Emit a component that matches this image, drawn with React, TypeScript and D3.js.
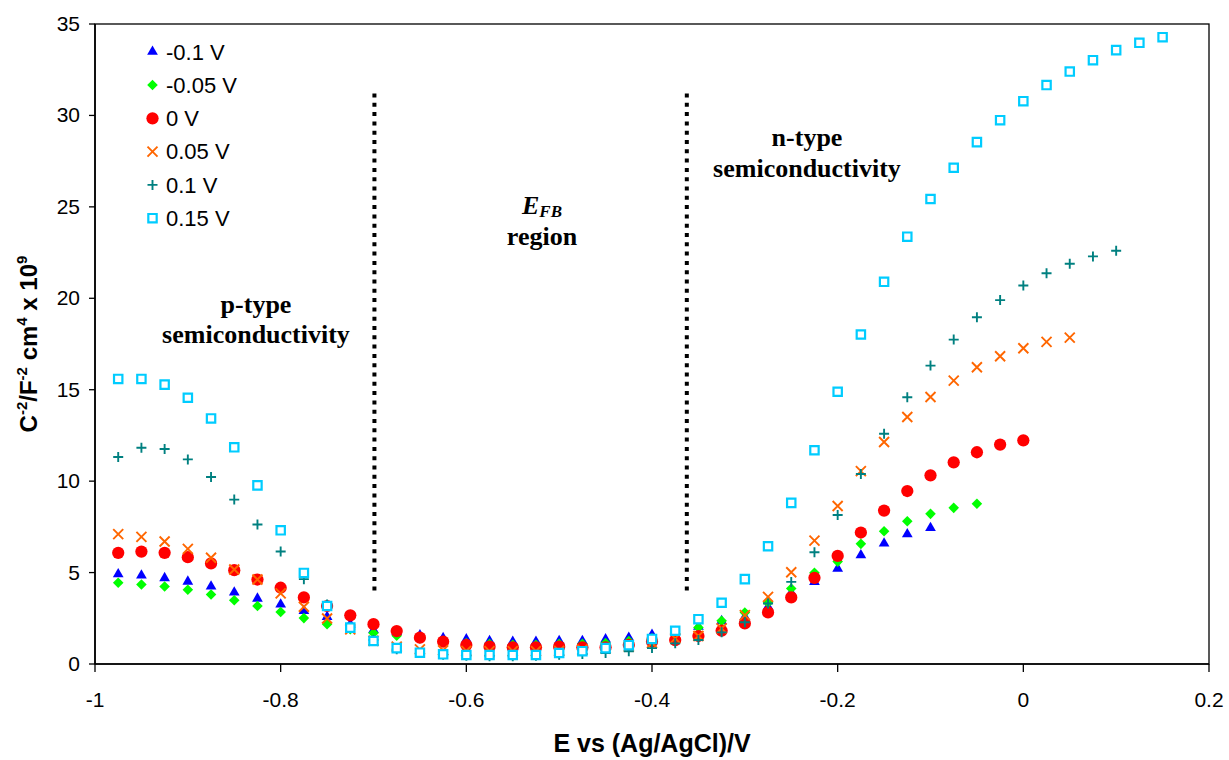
import React from "react";
import * as d3 from "d3";

const potentials = [
  -0.975, -0.95, -0.925, -0.9, -0.875, -0.85, -0.825, -0.8, -0.775, -0.75,
  -0.725, -0.7, -0.675, -0.65, -0.625, -0.6, -0.575, -0.55, -0.525, -0.5,
  -0.475, -0.45, -0.425, -0.4, -0.375, -0.35, -0.325, -0.3, -0.275, -0.25,
  -0.225, -0.2, -0.175, -0.15, -0.125, -0.1, -0.075, -0.05, -0.025, 0,
  0.025, 0.05, 0.075, 0.1, 0.125, 0.15,
];

const seriesM010 = [
  4.91, 4.84, 4.7, 4.51, 4.24, 3.91, 3.58, 3.26, 2.91, 2.58, 2.18, 1.86, 1.75,
  1.57, 1.42, 1.35, 1.26, 1.22, 1.22, 1.26, 1.26, 1.35, 1.44, 1.6, 1.75, 2.04,
  2.35, 2.58, 3.13, 3.9, 4.49, 5.22, 5.95, 6.59, 7.1, 7.44,
];
const seriesM005 = [
  4.44, 4.35, 4.24, 4.06, 3.8, 3.49, 3.17, 2.84, 2.51, 2.18, 1.9, 1.69, 1.55,
  1.4, 1.25, 1.15, 1.1, 1.05, 1.05, 1.1, 1.1, 1.15, 1.25, 1.4, 1.65, 2.0, 2.36,
  2.82, 3.35, 4.13, 4.99, 5.6, 6.57, 7.26, 7.81, 8.21, 8.54, 8.76,
];
const seriesP000 = [
  6.08, 6.15, 6.08, 5.84, 5.5, 5.13, 4.62, 4.17, 3.64, 3.17, 2.66, 2.18, 1.8,
  1.44, 1.22, 1.04, 0.95, 0.91, 0.91, 0.95, 0.91, 0.91, 1.04, 1.22, 1.31, 1.53,
  1.82, 2.22, 2.82, 3.64, 4.71, 5.91, 7.19, 8.39, 9.46, 10.32, 11.03, 11.58,
  12.0, 12.23,
];
const seriesP005 = [
  7.1, 6.95, 6.7, 6.3, 5.81, 5.17, 4.62, 3.86, 3.13, 2.49, 1.89, 1.27, 0.95,
  0.8, 0.75, 0.72, 0.7, 0.7, 0.7, 0.72, 0.78, 0.85, 0.95, 1.15, 1.4, 1.53,
  1.95, 2.67, 3.67, 5.02, 6.75, 8.64, 10.55, 12.14, 13.51, 14.6, 15.5, 16.23,
  16.83, 17.27, 17.62, 17.85,
];
const seriesP010 = [
  11.32, 11.83, 11.76, 11.19, 10.23, 8.99, 7.63, 6.15, 4.64, 3.26, 1.99, 1.31,
  0.8, 0.6, 0.5, 0.45, 0.42, 0.42, 0.45, 0.5, 0.55, 0.6, 0.7, 0.87, 1.13, 1.31,
  1.73, 2.28, 3.31, 4.49, 6.11, 8.15, 10.39, 12.59, 14.59, 16.32, 17.74, 18.96,
  19.9, 20.7, 21.37, 21.89, 22.29, 22.6,
];
const seriesP015 = [
  15.59, 15.59, 15.28, 14.56, 13.43, 11.85, 9.77, 7.31, 4.98, 3.17, 1.99, 1.26,
  0.87, 0.62, 0.53, 0.49, 0.49, 0.49, 0.49, 0.6, 0.7, 0.87, 1.03, 1.37, 1.82,
  2.45, 3.35, 4.64, 6.44, 8.81, 11.69, 14.89, 18.02, 20.9, 23.37, 25.43, 27.14,
  28.54, 29.74, 30.78, 31.66, 32.4, 33.02, 33.57, 33.97, 34.28,
];

const seriesNames = ["-0.1 V", "-0.05 V", "0 V", "0.05 V", "0.1 V", "0.15 V"];
const seriesColors = ["#0000FF", "#00FF00", "#FF0000", "#FF6600", "#008080", "#00CCFF"];
const seriesShapes = ["triangle", "diamond", "circle", "times", "plus", "square"];
const seriesValues = [seriesM010, seriesM005, seriesP000, seriesP005, seriesP010, seriesP015];

const xTicks = [-1, -0.8, -0.6, -0.4, -0.2, 0, 0.2];
const yTicks = [0, 5, 10, 15, 20, 25, 30, 35];
const dividerX = [-0.699, -0.3625];
const dividerY = [4.0, 31.2];

const W = 1229;
const H = 760;
const M = { left: 95, right: 1209, top: 24, bottom: 664 };

function Marker({ shape, color, x, y }: { shape: string; color: string; x: number; y: number }) {
  const t = `translate(${x},${y})`;
  if (shape === "triangle") {
    return <path transform={t} d={d3.symbol(d3.symbolTriangle, 50)() as string} fill={color} />;
  }
  if (shape === "diamond") {
    return (
      <path transform={`${t} rotate(45)`} d={d3.symbol(d3.symbolSquare, 56)() as string} fill={color} />
    );
  }
  if (shape === "circle") {
    return <path transform={t} d={d3.symbol(d3.symbolCircle, 118)() as string} fill={color} />;
  }
  if (shape === "square") {
    return (
      <path transform={t} d={d3.symbol(d3.symbolSquare, 70)() as string} fill="white" stroke={color} strokeWidth={2.2} />
    );
  }
  const h = 5;
  const d =
    shape === "times"
      ? `M${-h},${-h}L${h},${h}M${-h},${h}L${h},${-h}`
      : `M${-h},0L${h},0M0,${-h}L0,${h}`;
  return <path transform={t} d={d} fill="none" stroke={color} strokeWidth={1.9} />;
}

export default function App() {
  const x = d3.scaleLinear().domain([-1, 0.2]).range([M.left, M.right]);
  const y = d3.scaleLinear().domain([0, 35]).range([M.bottom, M.top]);
  const arial = "Arial, 'Liberation Sans', sans-serif";
  const serif = "'Times New Roman', 'Liberation Serif', serif";

  return (
    <div style={{ position: "absolute", left: 0, top: 0 }}>
      <svg width={W} height={H} style={{ display: "block", background: "white" }}>
        {/* frame */}
        <rect x={M.left} y={M.top} width={M.right - M.left} height={M.bottom - M.top} fill="none" stroke="#000" strokeWidth={1.3} />
        <line x1={M.left} x2={M.left} y1={M.top} y2={M.bottom} stroke="#000" strokeWidth={1.6} />
        <line x1={M.left} x2={M.right} y1={M.bottom} y2={M.bottom} stroke="#000" strokeWidth={1.6} />

        {/* y ticks */}
        {yTicks.map((v) => (
          <g key={`y${v}`}>
            <line x1={M.left - 6} x2={M.left} y1={y(v)} y2={y(v)} stroke="#000" strokeWidth={1.3} />
            <text x={M.left - 15} y={y(v) + 7} textAnchor="end" fontFamily={arial} fontSize={21}>
              {v}
            </text>
          </g>
        ))}
        {/* x ticks */}
        {xTicks.map((v) => (
          <g key={`x${v}`}>
            <line x1={x(v)} x2={x(v)} y1={M.bottom} y2={M.bottom + 8} stroke="#000" strokeWidth={1.3} />
            <text x={x(v)} y={707} textAnchor="middle" fontFamily={arial} fontSize={21}>
              {v}
            </text>
          </g>
        ))}

        {/* axis titles */}
        <text x={(M.left + M.right) / 2} y={752} textAnchor="middle" fontFamily={arial} fontWeight="bold" fontSize={25}>
          E vs (Ag/AgCl)/V
        </text>
        <text
          transform={`translate(37,${(M.top + M.bottom) / 2}) rotate(-90)`}
          textAnchor="middle"
          fontFamily={arial}
          fontWeight="bold"
          fontSize={24}
        >
          C<tspan fontSize={15} dy={-10}>-2</tspan>
          <tspan dy={10}>/F</tspan>
          <tspan fontSize={15} dy={-10}>-2</tspan>
          <tspan dy={10}> cm</tspan>
          <tspan fontSize={15} dy={-10}>4</tspan>
          <tspan dy={10}> x 10</tspan>
          <tspan fontSize={15} dy={-10}>9</tspan>
        </text>

        {/* dotted dividers */}
        {dividerX.map((v) => (
          <line
            key={`d${v}`}
            x1={x(v)}
            x2={x(v)}
            y1={y(dividerY[1])}
            y2={y(dividerY[0])}
            stroke="#000"
            strokeWidth={4}
            strokeDasharray="4 5.3"
          />
        ))}

        {/* annotations */}
        <g fontFamily={serif} fontWeight="bold" fontSize={26} textAnchor="middle">
          <text x={256} y={313}>p-type</text>
          <text x={256} y={343}>semiconductivity</text>
          <text x={542} y={214} fontStyle="italic">
            E<tspan fontSize={17} dy={3}>FB</tspan>
          </text>
          <text x={542} y={245}>region</text>
          <text x={807} y={146}>n-type</text>
          <text x={807} y={177}>semiconductivity</text>
        </g>

        {/* data */}
        {seriesValues.map((vals, si) => (
          <g key={`s${si}`}>
            {vals.map((v, i) => (
              <Marker key={i} shape={seriesShapes[si]} color={seriesColors[si]} x={x(potentials[i])} y={y(v)} />
            ))}
          </g>
        ))}

        {/* legend */}
        {seriesNames.map((n, i) => (
          <g key={`l${i}`}>
            <Marker shape={seriesShapes[i]} color={seriesColors[i]} x={152.5} y={51.7 + i * 33.3} />
            <text x={166} y={59.5 + i * 33.3} fontFamily={arial} fontSize={22}>
              {n}
            </text>
          </g>
        ))}
      </svg>
    </div>
  );
}
